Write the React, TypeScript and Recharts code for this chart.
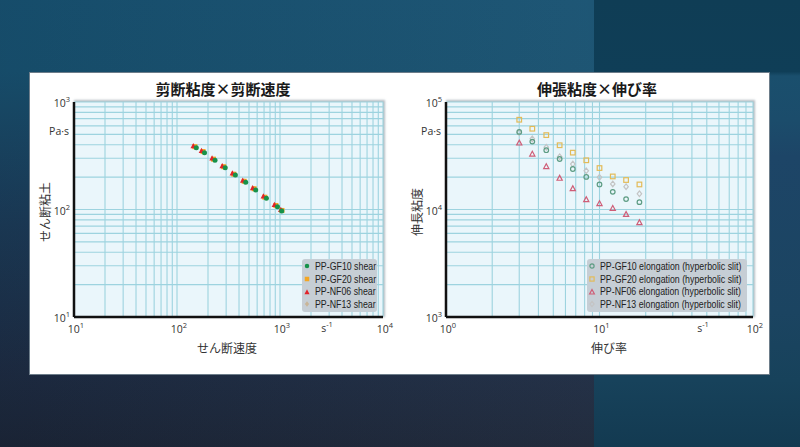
import React from 'react';
import { ScatterChart, Scatter, XAxis, YAxis, CartesianGrid, Legend } from 'recharts';

// shear viscosity (Pa·s) against shear rate (s^-1)
const shearRateGF10 = [154, 185, 234, 294, 369, 465, 581, 738, 945, 1040];
const shearViscGF10 = [375, 338, 287, 244, 209, 179, 152, 127, 106, 97];
const shearRateGF20 = [149, 179, 226, 284, 356, 449, 561, 713, 912, 1045];
const shearViscGF20 = [384, 346, 294, 250, 213, 183, 156, 130, 109, 98];
const shearRateNF06 = [144, 173, 219, 275, 345, 435, 543, 690, 883, 1018];
const shearViscNF06 = [391, 353, 300, 255, 218, 187, 159, 133, 111, 100];
const shearRateNF13 = [150, 180, 228, 286, 359, 452, 565, 718, 918, 1030];
const shearViscNF13 = [380, 343, 291, 248, 212, 182, 155, 129, 108, 98];

// elongational viscosity (Pa·s) against strain rate (s^-1)
const strainRate = [3, 3.65, 4.5, 5.5, 6.7, 8.2, 10, 12.2, 14.9, 18.2];
const elongGF10 = [52700, 42800, 35600, 29500, 23800, 20100, 17100, 14600, 12500, 11700];
const elongGF20 = [68400, 56400, 49200, 39600, 33800, 28700, 24300, 20300, 18800, 17100];
const elongNF06 = [41700, 32900, 25200, 19600, 15700, 12400, 11400, 10300, 9030, 7570];
const elongNF13 = [52000, 45400, 37900, 31000, 26500, 22900, 19900, 17300, 16300, 14000];

const shearNames = ['PP-GF10 shear', 'PP-GF20 shear', 'PP-NF06 shear', 'PP-NF13 shear'];
const elongNames = [
  'PP-GF10 elongation (hyperbolic slit)',
  'PP-GF20 elongation (hyperbolic slit)',
  'PP-NF06 elongation (hyperbolic slit)',
  'PP-NF13 elongation (hyperbolic slit)',
];

type Kind = 'circle' | 'square' | 'triangle' | 'diamond';
type Series = { name: string; x: number[]; y: number[]; kind: Kind; fill: string; stroke: string };

const shearSeries: Series[] = [
  { name: shearNames[0], x: shearRateGF10, y: shearViscGF10, kind: 'circle', fill: '#17924a', stroke: 'none' },
  { name: shearNames[1], x: shearRateGF20, y: shearViscGF20, kind: 'square', fill: '#f4a623', stroke: 'none' },
  { name: shearNames[2], x: shearRateNF06, y: shearViscNF06, kind: 'triangle', fill: '#e1242b', stroke: 'none' },
  { name: shearNames[3], x: shearRateNF13, y: shearViscNF13, kind: 'diamond', fill: '#c9b598', stroke: 'none' },
];

const elongSeries: Series[] = [
  { name: elongNames[0], x: strainRate, y: elongGF10, kind: 'circle', fill: 'none', stroke: '#5d9c83' },
  { name: elongNames[1], x: strainRate, y: elongGF20, kind: 'square', fill: 'none', stroke: '#e3bb58' },
  { name: elongNames[2], x: strainRate, y: elongNF06, kind: 'triangle', fill: 'none', stroke: '#cf5d77' },
  { name: elongNames[3], x: strainRate, y: elongNF13, kind: 'diamond', fill: 'none', stroke: '#c4c4c4' },
];

const logTicks = (from: number, to: number) => {
  const out: number[] = [];
  for (let e = from; e < to; e++) for (let m = 1; m < 10; m++) out.push(m * 10 ** e);
  out.push(10 ** to);
  return out;
};

const TICK_FONT = "'Open Sans', 'Noto Sans', sans-serif";
const CJK_FONT = "'Noto Sans CJK JP', sans-serif";
const LEGEND_FONT = "'Liberation Sans', Arial, sans-serif";

const TOP = 73;
const H = 300;
const M_TOP = 29;
const Y_W = 44;
const M_RIGHT = 17;
const X_H = 56;

function Marker({ cx, cy, kind, fill, stroke, s }: any) {
  const sw = stroke === 'none' ? 0 : 1.2;
  if (kind === 'circle') return <circle cx={cx} cy={cy} r={s / 2} fill={fill} stroke={stroke} strokeWidth={sw} />;
  if (kind === 'square')
    return <rect x={cx - s / 2} y={cy - s / 2} width={s} height={s} fill={fill} stroke={stroke} strokeWidth={sw} />;
  if (kind === 'triangle') {
    const h = s * 0.95;
    return (
      <polygon
        points={`${cx},${cy - h / 2 - 0.5} ${cx + s / 2 + 0.3},${cy + h / 2} ${cx - s / 2 - 0.3},${cy + h / 2}`}
        fill={fill}
        stroke={stroke}
        strokeWidth={sw}
      />
    );
  }
  const r = s / 2 + 0.5;
  return (
    <polygon
      points={`${cx},${cy - r} ${cx + r * 0.8},${cy} ${cx},${cy + r} ${cx - r * 0.8},${cy}`}
      fill={fill}
      stroke={stroke}
      strokeWidth={sw}
    />
  );
}

const decade = (v: number) => {
  const e = Math.round(Math.log10(v));
  return Math.abs(10 ** e - v) < 1e-9 ? e : null;
};

const XTick = ({ x, y, payload }: any) => {
  const e = decade(payload.value);
  if (e === null) return <g />;
  return (
    <text x={x + 2} y={y + 16} textAnchor="middle" fontSize={10.5} fill="#333" fontFamily={TICK_FONT}>
      10<tspan dy={-5} fontSize={7.5}>{e}</tspan>
    </text>
  );
};

const YTick = ({ x, y, payload }: any) => {
  const e = decade(payload.value);
  if (e === null) return <g />;
  return (
    <text x={x - 4} y={y + 5} textAnchor="end" fontSize={10.5} fill="#333" fontFamily={TICK_FONT}>
      10<tspan dy={-5} fontSize={7.5}>{e}</tspan>
    </text>
  );
};

function LegendBox({ series, s, width }: { series: Series[]; s: number; width: number }) {
  return (
    <div
      style={{
        width,
        background: '#c6ced5',
        borderRadius: 3,
        padding: '1px 0 1px 1px',
        boxSizing: 'border-box',
        fontFamily: LEGEND_FONT,
        fontSize: 11,
        lineHeight: '12.7px',
        color: '#222',
        overflow: 'hidden',
      }}
    >
      {series.map((sr) => (
        <div key={sr.name} style={{ display: 'flex', alignItems: 'center', whiteSpace: 'nowrap' }}>
          <svg width={8} height={8} style={{ marginRight: 3.5, flex: 'none' }}>
            <Marker cx={4} cy={4} kind={sr.kind} fill={sr.fill} stroke={sr.stroke} s={s} />
          </svg>
          <span style={{ display: 'inline-block', transform: 'scaleX(0.8)', transformOrigin: 'left center' }}>
            {sr.name}
          </span>
        </div>
      ))}
    </div>
  );
}

type PanelProps = {
  left: number;
  width: number;
  title: string;
  titleX: number;
  xLabel: string;
  xLabelX: number;
  yLabel: string;
  xDecades: [number, number];
  yDecades: [number, number];
  series: Series[];
  order: number[];
  markerSize: number;
  legendSize: number;
  legendWidth: number;
  unitX: number;
};

function Panel(p: PanelProps) {
  const plotLeft = p.left + Y_W;
  const plotTop = TOP + M_TOP;
  const plotW = p.width - Y_W - M_RIGHT;
  const plotH = H - M_TOP - X_H;
  const xTicks = logTicks(p.xDecades[0], p.xDecades[1]);
  const yTicks = logTicks(p.yDecades[0], p.yDecades[1]);
  return (
    <>
      <div
        style={{
          position: 'absolute',
          left: plotLeft,
          top: plotTop,
          width: plotW,
          height: plotH,
          boxShadow: '1px -1px 2px 1px rgba(120,135,145,0.55)',
        }}
      />
      <div style={{ position: 'absolute', left: p.left, top: TOP }}>
        <ScatterChart width={p.width} height={H} margin={{ top: M_TOP, right: M_RIGHT, bottom: 0, left: 0 }}>
          <CartesianGrid fill="#eaf6fb" stroke="#9dd3df" strokeWidth={1.1} />
          <XAxis
            type="number"
            dataKey="x"
            scale="log"
            domain={[10 ** p.xDecades[0], 10 ** p.xDecades[1]]}
            ticks={xTicks}
            interval={0}
            height={X_H}
            tickLine={false}
            tickSize={0}
            tickMargin={0}
            axisLine={{ stroke: '#111', strokeWidth: 2.5 }}
            tick={<XTick />}
            allowDataOverflow
          />
          <YAxis
            type="number"
            dataKey="y"
            scale="log"
            domain={[10 ** p.yDecades[0], 10 ** p.yDecades[1]]}
            ticks={yTicks}
            interval={0}
            width={Y_W}
            tickLine={false}
            tickSize={0}
            tickMargin={0}
            axisLine={{ stroke: '#111', strokeWidth: 2.5 }}
            tick={<YTick />}
            allowDataOverflow
          />
          {p.order.map((i) => {
            const sr = p.series[i];
            return (
              <Scatter
                key={sr.name}
                name={sr.name}
                data={sr.x.map((x, k) => ({ x, y: sr.y[k] }))}
                isAnimationActive={false}
                shape={(props: any) => (
                  <Marker cx={props.cx} cy={props.cy} kind={sr.kind} fill={sr.fill} stroke={sr.stroke} s={p.markerSize} />
                )}
              />
            );
          })}
          <Legend
            layout="vertical"
            align="center"
            verticalAlign="middle"
            wrapperStyle={{ left: Y_W + plotW - p.legendWidth - 6, top: M_TOP + plotH - 58, width: p.legendWidth }}
            content={() => <LegendBox series={p.series} s={p.legendSize} width={p.legendWidth} />}
          />
        </ScatterChart>
      </div>
      <div
        style={{
          position: 'absolute',
          left: p.titleX,
          top: 88,
          transform: 'translate(-50%, -50%)',
          fontFamily: CJK_FONT,
          fontWeight: 700,
          fontSize: 15,
          color: '#1a1a1a',
          whiteSpace: 'nowrap',
        }}
      >
        {p.title}
      </div>
      <div
        style={{
          position: 'absolute',
          left: p.xLabelX,
          top: 347,
          transform: 'translate(-50%, -50%)',
          fontFamily: CJK_FONT,
          fontSize: 12,
          color: '#333',
          whiteSpace: 'nowrap',
        }}
      >
        {p.xLabel}
      </div>
      <div
        style={{
          position: 'absolute',
          left: plotLeft - 30,
          top: plotTop + plotH / 2 + 2,
          transform: 'translate(-50%, -50%) rotate(-90deg)',
          fontFamily: CJK_FONT,
          fontSize: 12,
          color: '#333',
          whiteSpace: 'nowrap',
        }}
      >
        {p.yLabel}
      </div>
      <div
        style={{
          position: 'absolute',
          left: plotLeft - 44,
          width: 39,
          textAlign: 'right',
          top: 124,
          fontFamily: TICK_FONT,
          fontSize: 10.5,
          color: '#333',
          lineHeight: '14px',
        }}
      >
        Pa·s
      </div>
      <div
        style={{
          position: 'absolute',
          left: p.unitX,
          top: plotTop + plotH + 4,
          transform: 'translateX(-50%)',
          fontFamily: TICK_FONT,
          fontSize: 10.5,
          color: '#333',
          lineHeight: '14px',
          whiteSpace: 'nowrap',
        }}
      >
        s<sup style={{ fontSize: 7.5, verticalAlign: 0, position: 'relative', top: -5 }}>-1</sup>
      </div>
    </>
  );
}

export default function App() {
  return (
    <div style={{ position: 'absolute', left: 0, top: 0, width: 800, height: 447, overflow: 'hidden' }}>
      <div
        style={{
          position: 'absolute',
          left: 0,
          top: 0,
          width: 594,
          height: 447,
          background:
            'linear-gradient(to right, rgba(0,0,0,0.06), rgba(255,255,255,0.03)), linear-gradient(to bottom, #175171 0%, #17506f 16%, #1b3a57 50%, #1d2b42 84%, #1b2537 100%)',
        }}
      />
      <div
        style={{
          position: 'absolute',
          left: 594,
          top: 0,
          width: 206,
          height: 447,
          background:
            'linear-gradient(to bottom, #0f3d55 0%, #0f3e57 16%, #1a4f6d 17%, #1b4c6b 27%, #1d4567 35%, #1b4461 70%, #17425b 85%, #133a51 100%)',
        }}
      />
      <div
        style={{
          position: 'absolute',
          left: 30,
          top: TOP,
          width: 739,
          height: 301,
          background: '#fff',
          boxShadow: '0 0 0 1px #6d7d8a',
        }}
      />
      <Panel
        left={30}
        width={370}
        title="剪断粘度×剪断速度"
        titleX={223}
        xLabel="せん断速度"
        xLabelX={227}
        yLabel="せん断粘土"
        xDecades={[1, 4]}
        yDecades={[1, 3]}
        series={shearSeries}
        order={[3, 1, 2, 0]}
        markerSize={5}
        legendSize={4.5}
        legendWidth={75}
        unitX={327}
      />
      <Panel
        left={402}
        width={368}
        title="伸張粘度×伸び率"
        titleX={597}
        xLabel="伸び率"
        xLabelX={609}
        yLabel="伸長粘度"
        xDecades={[0, 2]}
        yDecades={[3, 5]}
        series={elongSeries}
        order={[3, 1, 2, 0]}
        markerSize={4.6}
        legendSize={4.2}
        legendWidth={160}
        unitX={703}
      />
    </div>
  );
}
